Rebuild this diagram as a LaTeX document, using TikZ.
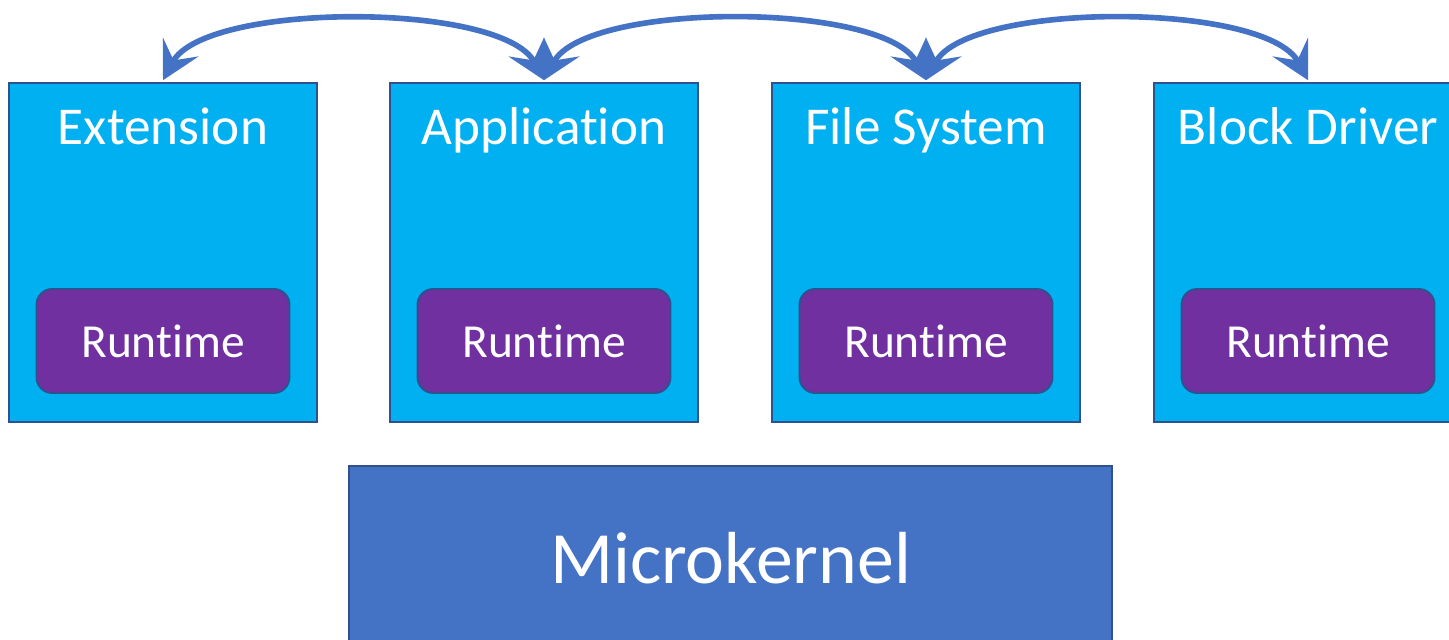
\documentclass[tikz,border=0pt]{standalone}
\usepackage{fontspec}
\setmainfont{Carlito}[Ligatures=NoCommon]
\usetikzlibrary{arrows.meta, positioning}
\definecolor{compfill}{HTML}{00B0F0}
\definecolor{rtfill}{HTML}{7030A0}
\definecolor{kernfill}{HTML}{4472C4}
\definecolor{edgeblue}{HTML}{2F528F}
\tikzset{
  comp/.style={rectangle, draw=edgeblue, fill=compfill, line width=1.1pt, minimum width=6.16cm, minimum height=6.78cm, inner sep=0pt},
  ttl/.style={text=white, font=\fontsize{30.3}{36}\selectfont, inner sep=0pt, anchor=base},
  rt/.style={rectangle, rounded corners=9pt, draw=edgeblue, fill=rtfill, line width=1.1pt, minimum width=5.06cm, minimum height=2.08cm, text=white, font=\fontsize{27}{32}\selectfont},
  kern/.style={rectangle, draw=edgeblue, fill=kernfill, line width=1.1pt, minimum width=15.26cm, minimum height=3.68cm, text=white, font=\fontsize{42}{50}\selectfont},
  lnk/.style={<->, >={Stealth[length=7.5mm, width=8mm, inset=3mm]}, draw=kernfill, line width=3.2pt, out=62, in=118, looseness=0.6}
}
\begin{document}
\begin{tikzpicture}
	\useasboundingbox (0,0) rectangle (28.98,12.8);
	% components, each with its own runtime
	\foreach \n/\x/\t in {ext/3.26/Extension, app/10.88/Application, fs/18.52/File System, drv/26.16/Block Driver} {
		\node[comp] (\n) at (\x,7.75) {};
		\node[ttl] (\n-t) at ([yshift=-1.24cm]\n.north) {\t};
		\node[rt, above=0.58cm of \n.south] (\n-r) {Runtime};
	}
	% kernel underneath
	\node[kern] (mk) at (14.61,1.64) {Microkernel};
	% messages between neighbours
	\draw[lnk] ([yshift=1pt]ext.north) to ([yshift=1pt]app.north);
	\draw[lnk] ([yshift=1pt]app.north) to ([yshift=1pt]fs.north);
	\draw[lnk] ([yshift=1pt]fs.north) to ([yshift=1pt]drv.north);
\end{tikzpicture}
\end{document}
